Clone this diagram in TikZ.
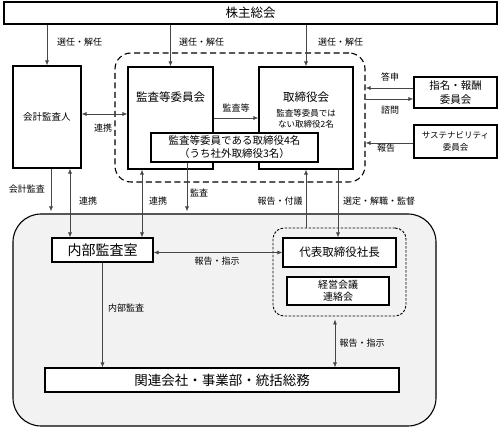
\documentclass[tikz,border=0pt]{standalone}
\usepackage{fontspec}
\setmainfont{Noto Sans CJK JP}
\usetikzlibrary{arrows.meta,calc}
\definecolor{bgray}{RGB}{242,242,242}
\definecolor{agray}{RGB}{70,70,70}
\begin{document}
\begin{tikzpicture}[x=1pt,y=-1pt,
  box/.style={draw=black, line width=1.1pt, fill=white, inner sep=0pt, align=center},
  arr/.style={draw=agray, line width=0.7pt, -{Latex[length=5pt,width=4pt]}},
  darr/.style={draw=agray, line width=0.7pt, {Latex[length=5pt,width=4pt]}-{Latex[length=5pt,width=4pt]}},
  lbl/.style={font=\fontsize{9}{10}\selectfont, inner sep=0pt},
  txt/.style={inner sep=0pt, align=center},
  grp/.style={draw=black, line width=1.1pt, inner sep=0pt}
]
\useasboundingbox (0,0) rectangle (501,427);

% big lower area
\node[grp, fill=bgray, rounded corners=28pt, minimum width=423pt, minimum height=212pt] (big) at (224.5,320) {};
% dashed group
\node[grp, dashed, dash pattern=on 6pt off 3.5pt, rounded corners=16pt, minimum width=250pt, minimum height=129pt] (grpA) at (240,117.5) {};
% dotted group
\node[grp, line width=0.9pt, dash pattern=on 2.5pt off 1.5pt, rounded corners=11pt, minimum width=133pt, minimum height=88pt] (grpB) at (339.5,272) {};

% boxes
\node[box, minimum width=493pt, minimum height=22pt, font=\fontsize{12.5}{14}\selectfont] (kabu) at (250.5,13) {株主総会};
\node[box, minimum width=68pt, minimum height=102pt, font=\fontsize{9.5}{11}\selectfont] (kaikei) at (47,117) {会計監査人};
\node[box, minimum width=85pt, minimum height=102pt] (kansa) at (170.5,118) {};
\node[box, minimum width=94pt, minimum height=102pt] (tori) at (306,118) {};
\node[box, minimum width=167pt, minimum height=29pt, font=\fontsize{10.5}{13}\selectfont] (inner) at (234.5,147.5) {監査等委員である取締役4名\\（うち社外取締役3名）};
\node[box, minimum width=83pt, minimum height=31pt, font=\fontsize{10.5}{14}\selectfont] (shimei) at (455.5,92.5) {指名・報酬\\委員会};
\node[box, minimum width=83pt, minimum height=33pt, font=\fontsize{8.5}{12}\selectfont] (sust) at (455.5,141.5) {サステナビリティ\\委員会};
\node[box, minimum width=101pt, minimum height=24pt, font=\fontsize{14}{16}\selectfont] (naibu) at (102.5,250) {内部監査室};
\node[box, minimum width=113pt, minimum height=29pt, font=\fontsize{11.5}{13}\selectfont] (daihyo) at (339.5,252.5) {代表取締役社長};
\node[box, minimum width=102pt, minimum height=28pt, font=\fontsize{10}{12}\selectfont] (keiei) at (338,291) {経営会議\\連絡会};
\node[box, minimum width=354pt, minimum height=24pt, font=\fontsize{13.5}{15}\selectfont] (kanren) at (222,380) {関連会社・事業部・統括総務};

% texts inside boxes
\node[txt, font=\fontsize{11.5}{13}\selectfont] (kansaT) at (170.5,97) {監査等委員会};
\node[txt, font=\fontsize{11.5}{13}\selectfont] (toriT) at (306,97) {取締役会};
\node[txt, font=\fontsize{8.5}{11}\selectfont] (toriS) at (306,118.5) {監査等委員では\\ない取締役2名};

% arrows from shareholders
\draw[arr] (kabu.south -| kaikei) -- (kaikei.north);
\draw[arr] (kabu.south -| kansa) -- (kansa.north);
\draw[arr] (kabu.south -| tori) -- (tori.north);
\node[lbl, anchor=west] (l1) at (57,42) {選任・解任};
\node[lbl, anchor=west] (l2) at (179,42) {選任・解任};
\node[lbl, anchor=west] (l3) at (318,42) {選任・解任};

% upper connectors
\draw[darr] ([yshift=3pt]kaikei.east) -- ([yshift=3pt]kaikei.east -| kansa.west);
\node[lbl] (l4) at (103,128) {連携};
\draw[arr] (kansa.east) -- (tori.west);
\node[lbl] (l5) at (236,108) {監査等};

\draw[arr] ([yshift=4.5pt]shimei.west) -- ([yshift=4.5pt]shimei.west -| grpA.east);
\draw[arr] ([yshift=-6.5pt]shimei.west -| grpA.east) -- ([yshift=-6.5pt]shimei.west);
\node[lbl] (l6) at (390,77) {答申};
\node[lbl] (l7) at (390,110) {諮問};
\draw[arr] ([yshift=-1.5pt]sust.west) -- ([yshift=-1.5pt]sust.west -| grpA.east);
\node[lbl] (l8) at (386,148) {報告};

% middle connectors
\draw[arr, shorten >=2pt] ([xshift=4pt]kaikei.south) -- ([xshift=4pt]kaikei.south |- big.north);
\node[lbl] (l9) at (27,189) {会計監査};
\draw[darr] ([xshift=23pt]kaikei.south) -- ([xshift=23pt]kaikei.south |- naibu.north);
\node[lbl] (l10) at (88,201) {連携};
\draw[darr] ([xshift=-28.5pt]kansa.south) -- ([xshift=-28.5pt]kansa.south |- naibu.north);
\node[lbl] (l11) at (158,201) {連携};
\draw[arr, shorten >=2pt] ([xshift=-47.5pt]inner.south) -- ([xshift=-47.5pt]inner.south |- big.north);
\node[lbl] (l12) at (199,193) {監査};
\draw[arr] (grpB.north -| tori) -- (tori.south);
\node[lbl] (l13) at (280,201) {報告・付議};
\draw[arr] ([xshift=32pt]tori.south) -- ([xshift=32pt]tori.south |- daihyo.north);
\node[lbl] (l14) at (379,201) {選定・解職・監督};

% lower connectors
\draw[darr] (naibu.east |- daihyo.west) -- (daihyo.west);
\node[lbl] (l15) at (217,261) {報告・指示};
\draw[arr] (naibu.south) -- (naibu.south |- kanren.north);
\node[lbl] (l16) at (126,308) {内部監査};
\draw[darr, shorten <=3pt] ([xshift=-4.5pt]grpB.south) -- ([xshift=-4.5pt]grpB.south |- kanren.north);
\node[lbl] (l17) at (362,343) {報告・指示};
\end{tikzpicture}
\end{document}
